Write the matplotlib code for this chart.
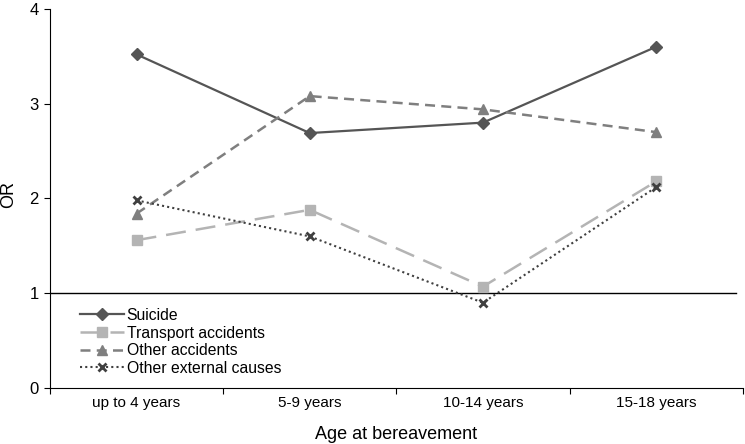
import matplotlib
matplotlib.use("Agg")
import matplotlib.pyplot as plt
import numpy as np

plt.rcParams['font.family'] = ['Liberation Sans', 'DejaVu Sans']

categories = ["up to 4 years", "5-9 years", "10-14 years", "15-18 years"]
suicide = [3.52, 2.69, 2.80, 3.60]
transport = [1.56, 1.88, 1.07, 2.18]
other_acc = [1.84, 3.08, 2.94, 2.70]
other_ext = [1.98, 1.60, 0.90, 2.12]

fig = plt.figure(figsize=(7.45, 4.44), dpi=100)
ax = fig.add_axes([0.067, 0.126, 0.93, 0.854])
x = np.arange(len(categories))

ax.axhline(1, xmin=0, xmax=0.99, color='black', lw=1.0, zorder=1)
ax.plot(x, suicide, color='#555555', lw=1.6, marker='D', ms=6, label='Suicide', zorder=3)
ax.plot(x, transport, color='#b4b4b4', lw=1.8, ls=(0, (8, 4)), marker='s', ms=7, label='Transport accidents', zorder=3)
ax.plot(x, other_acc, color='#7f7f7f', lw=1.8, ls=(0, (4, 2.5)), marker='^', ms=7.5, label='Other accidents', zorder=3)
ax.plot(x, other_ext, color='#404040', lw=1.5, ls=(0, (1, 1.5)), marker='x', ms=6, mew=2, label='Other external causes', zorder=3)

ax.set_xlim(-0.5, 3.5)
ax.set_ylim(0, 4)
ax.set_yticks([0, 1, 2, 3, 4])
ax.set_xticks([-0.5, 0.5, 1.5, 2.5, 3.5])
ax.set_xticklabels([])
ax.set_xticks(x, minor=True)
ax.set_xticklabels(categories, minor=True, fontsize=11)
ax.tick_params(axis='x', which='minor', length=0, pad=6)
ax.tick_params(axis='x', which='major', length=4, direction='out')
ax.tick_params(axis='y', length=4, direction='out', labelsize=12, pad=4)
for s in ['top', 'right']:
    ax.spines[s].set_visible(False)
ax.set_xlabel('Age at bereavement', fontsize=13, labelpad=11)
ax.set_ylabel('OR', fontsize=13)
ax.yaxis.set_label_coords(-0.048, 0.51)

ax.legend(loc='upper left', bbox_to_anchor=(0.035, 0.228), frameon=False, fontsize=11.3,
          handlelength=2.75, handletextpad=0.2, labelspacing=0.17, borderaxespad=0)

fig.savefig('out.png', dpi=100)
